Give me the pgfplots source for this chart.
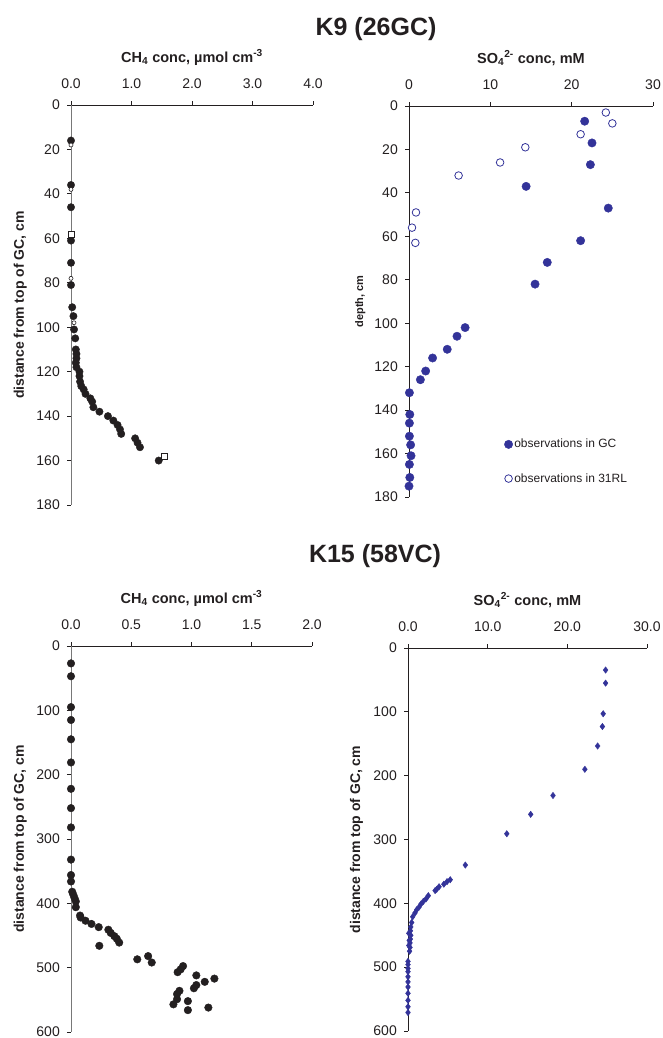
\documentclass[border=0pt]{standalone}
\usepackage{fontspec}
\setmainfont{Liberation Sans}
\usepackage{pgfplots}
\pgfplotsset{compat=1.18}
\definecolor{txt}{RGB}{35,31,32}
\definecolor{ch4}{RGB}{35,31,32}
\definecolor{so4}{RGB}{51,51,153}
\definecolor{yline}{RGB}{120,120,120}

\pgfplotsset{
  panel/.style={
    scale only axis, anchor=north west, y dir=reverse,
    axis x line=top, axis y line=left,
    axis line style={-, line width=0.9pt, draw=txt},
    tick align=outside, major tick length=4pt,
    tick style={line width=0.9pt, draw=txt},
    enlargelimits=false, clip=false,
    /pgf/number format/assume math mode=true,
    tick label style={font=\fontsize{14}{16}\selectfont, text=txt},
    xticklabel style={inner sep=0pt, yshift=12pt},
    yticklabel style={inner sep=0pt, anchor=east, xshift=-7pt},
    xlabel style={at={(axis description cs:0.5,1)}, anchor=base, yshift=43pt,
      font=\bfseries\fontsize{14.5}{16}\selectfont, text=txt},
    ylabel style={at={([xshift=-47pt]axis description cs:0,0.5)}, anchor=base,
      font=\bfseries\fontsize{14}{16}\selectfont, text=txt},
  },
  fixone/.style={xticklabel style={/pgf/number format/.cd, fixed, fixed zerofill, precision=1}},
}

\begin{document}
\begin{tikzpicture}
\useasboundingbox (0,0) rectangle (663pt,-1038pt);

\node[anchor=base, font=\bfseries\fontsize{25}{27}\selectfont, text=txt] at (376pt,-36pt) {K9 (26GC)};
\node[anchor=base, font=\bfseries\fontsize{25}{27}\selectfont, text=txt] at (375pt,-562pt) {K15 (58VC)};

% K9 methane
\begin{axis}[panel, fixone, at={(71pt,-105pt)}, width=242pt, height=400pt,
  xmin=0, xmax=4, ymin=0, ymax=180, xtick={0,1,2,3,4}, ytick={0,20,...,180},
  y axis line style={draw=yline},
  xlabel={CH\textsubscript{4} conc, µmol cm\textsuperscript{-3}},
  ylabel={distance from top of GC, cm}]
\addplot[only marks, mark=*, mark size=3.7pt, mark options={draw=ch4, fill=ch4}] coordinates {
 (0,16)(0,36)(0,46)(0,61)(0,71)(0,81)(0.02,91)(0.04,95)(0.05,101)(0.07,105)
 (0.08,110)(0.09,112)(0.09,114)(0.08,116)(0.09,118)(0.14,120)(0.14,122)(0.15,124.5)
 (0.17,126.5)(0.21,128)(0.24,130)(0.32,132)(0.35,133.5)(0.37,136)(0.47,138)(0.61,140)
 (0.70,142)(0.77,144)(0.81,146)(0.83,148)(1.06,150)(1.10,152)(1.14,154)(1.45,160)};
\addplot[only marks, mark=*, mark size=2pt, mark options={draw=ch4, fill=white, line width=0.6pt}] coordinates {
 (0,18)(0,38)(0,78)(0.05,98)};
\addplot[only marks, mark=square*, mark size=3pt, mark options={draw=ch4, fill=white, line width=0.7pt}] coordinates {
 (0,58)(1.54,158)};
\end{axis}

% K9 sulfate
\begin{axis}[panel, at={(409pt,-106pt)}, width=244pt, height=391pt,
  xmin=0, xmax=30, ymin=0, ymax=180, xtick={0,10,20,30}, ytick={0,20,...,180},
  xlabel={SO\textsubscript{4}\textsuperscript{2-} conc, mM},
  ylabel={depth, cm},
  ylabel style={at={([xshift=-46pt]axis description cs:0,0.5)}, font=\bfseries\fontsize{11}{13}\selectfont},
  legend style={at={(0.39,0.152)}, anchor=north west, draw=none, fill=none,
    font=\fontsize{12}{14}\selectfont, text=txt, inner sep=0pt, row sep=21pt,
    nodes={inner sep=1.5pt}},
  legend cell align=left,
  legend image code/.code={\draw[#1] plot coordinates {(0pt,0pt)};}]
\addplot[only marks, mark=*, mark size=4.2pt, mark options={draw=so4, fill=so4}] coordinates {
 (21.6,7)(22.5,17)(22.3,27)(14.4,37)(24.5,47)(21.1,62)(17.0,72)(15.5,82)(6.9,102)
 (5.9,106)(4.7,112)(2.9,116)(2.05,122)(1.4,126)(0.05,132)(0.1,142)(0.05,146)
 (0.05,152)(0.2,156)(0.25,161)(0.05,165)(0.1,171)(0,175)};
\addplot[only marks, mark=*, mark size=3.8pt, mark options={draw=so4, fill=white, line width=0.8pt}] coordinates {
 (24.2,3)(25.0,8)(21.1,13)(14.3,19)(11.2,26)(6.1,32)(0.86,49)(0.37,56)(0.78,63)};
\legend{observations in GC, observations in 31RL}
\end{axis}

% K15 methane
\begin{axis}[panel, fixone, at={(71pt,-646pt)}, width=241pt, height=386pt,
  xmin=0, xmax=2, ymin=0, ymax=600, xtick={0,0.5,1,1.5,2}, ytick={0,100,...,600},
  y axis line style={draw=yline},
  xlabel={CH\textsubscript{4} conc, µmol cm\textsuperscript{-3}},
  ylabel={distance from top of GC, cm}]
\addplot[only marks, mark=*, mark size=3.8pt, mark options={draw=ch4, fill=ch4}] coordinates {
 (0,27)(0,47)(0,95)(0,115)(0,145)(0,181)(0,222)(0,252)(0,282)(0,332)(0,356)(0,366)
 (0.01,382)(0.02,387)(0.03,392)(0.04,397)(0.04,406)(0.075,419)(0.08,422)(0.12,427)
 (0.17,432)(0.23,437)(0.235,466)(0.31,441)(0.33,446)(0.36,451)(0.38,455)(0.40,461)
 (0.55,487)(0.64,482)(0.67,492)(0.93,497.5)(0.91,502.6)(0.885,507)(1.04,512)(1.19,517)
 (1.11,522)(1.04,527)(1.02,532)(0.90,536)(0.88,541)(0.88,549)(0.85,557)(0.97,552)
 (0.97,566)(1.14,562)};
\end{axis}

% K15 sulfate
\begin{axis}[panel, fixone, at={(408pt,-648pt)}, width=239pt, height=383pt,
  xmin=0, xmax=30, ymin=0, ymax=600, xtick={0,10,20,30}, ytick={0,100,...,600},
  xlabel={SO\textsubscript{4}\textsuperscript{2-} conc, mM},
  ylabel={distance from top of GC, cm},
  ylabel style={at={([xshift=-48pt]axis description cs:0,0.5)}}]
\addplot[only marks, mark=diamond*, mark size=3.2pt, mark options={draw=so4, fill=so4}] coordinates {
 (24.8,34.5)(24.8,55)(24.5,103)(24.4,123)(23.8,153.5)(22.2,190)(18.2,231)(15.4,260.6)
 (12.4,291)(7.2,340)(5.3,363)(4.9,366)(4.5,370)(3.9,374)(3.6,378)(3.4,380)(2.55,388)
 (2.26,393)(1.92,397)(1.63,401)(1.38,406)(1.09,410)(0.88,415)(0.59,421)(0.46,430)
 (0.35,437)(0.3,443)(0.1,447)(0.35,450)(0.3,456)(0.15,458)(0.25,462)(0.1,466)(0.25,469)
 (0.2,475)(0,491)(0,496)(0,502)(0,507)(0,515)(0,523)(0,531)(0,541)(0,552)(0,562)(0,571)};
\end{axis}
\end{tikzpicture}
\end{document}
